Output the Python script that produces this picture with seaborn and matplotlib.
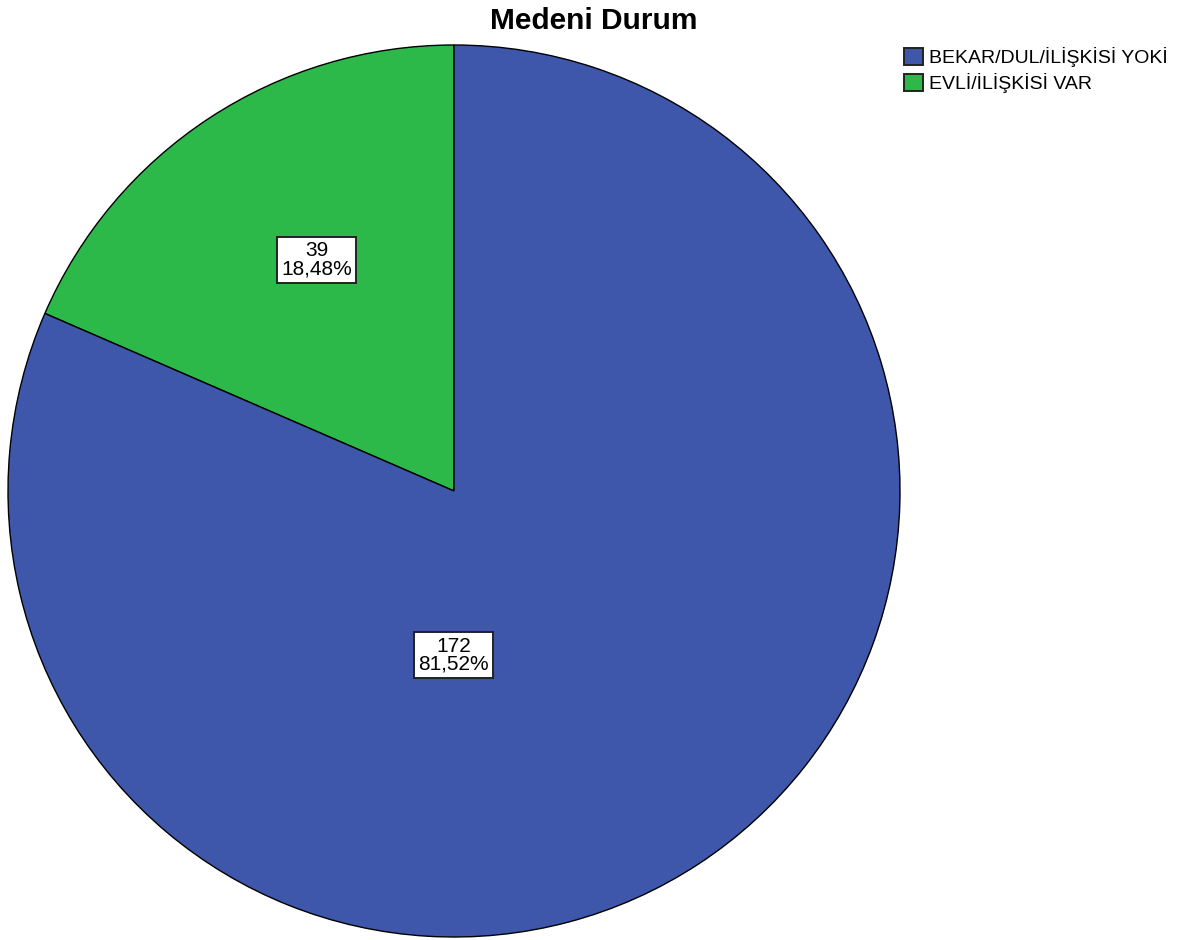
import matplotlib
matplotlib.use("Agg")
import matplotlib.pyplot as plt
import seaborn as sns
from matplotlib.patches import Patch

# Data
categories = ["BEKAR/DUL/İLİŞKİSİ YOKİ", "EVLİ/İLİŞKİSİ VAR"]
counts = [172, 39]
percent_labels = ["81,52%", "18,48%"]
title = "Medeni Durum"

sns.set_theme(style="white")
plt.rcParams["font.family"] = ["Liberation Sans", "DejaVu Sans"]
plt.rcParams["text.color"] = "black"

colors = sns.color_palette(["#3E57AB", "#2DB84A"])

fig = plt.figure(figsize=(11.87, 9.40), dpi=100)
W, H = 1187, 940
cx, cy, R = 454, 491, 446
ax = fig.add_axes([(cx - R) / W, (H - cy - R) / H, 2 * R / W, 2 * R / H])

# Married slice first, drawn counter-clockwise from 12 o'clock
order = [1, 0]
wedges, _ = ax.pie([counts[i] for i in order],
                   colors=[colors[i] for i in order],
                   startangle=90, counterclock=True, radius=1.0,
                   wedgeprops=dict(edgecolor="black", linewidth=1.0))
ax.set_xlim(-1, 1)
ax.set_ylim(-1, 1)
ax.set_aspect("equal")
ax.axis("off")

# Value labels in boxes
label_pos = {0: (-0.001, -0.368), 1: (-0.308, 0.518)}
for i in range(len(categories)):
    x, y = label_pos[i]
    ax.text(x, y, f"{counts[i]}\n{percent_labels[i]}", ha="center", va="center",
            fontsize=15, linespacing=0.95, color="black",
            bbox=dict(boxstyle="square,pad=0.2", facecolor="white",
                      edgecolor="#222222", linewidth=1.4))

fig.text(0.5, 1 - 21 / H, title, ha="center", va="center",
         fontsize=21.5, fontweight="bold", color="black")

handles = [Patch(facecolor=colors[i], edgecolor="#222222", linewidth=1.4)
           for i in range(len(categories))]
fig.legend(handles, categories, loc="upper left",
           bbox_to_anchor=(904 / W, 1 - 47 / H), frameon=False,
           fontsize=14, handlelength=1.0, handleheight=1.0,
           handletextpad=0.3, labelspacing=0.33, borderaxespad=0,
           borderpad=0.0, labelcolor="black")

fig.savefig("out.png", dpi=100)
